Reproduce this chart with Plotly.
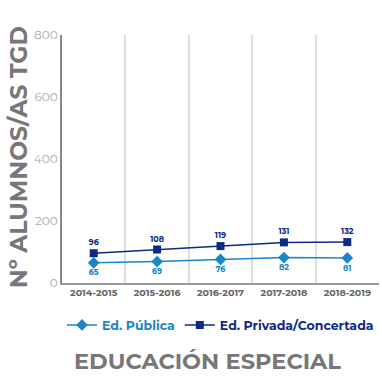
import plotly.graph_objects as go

categories = ["2014-2015", "2015-2016", "2016-2017", "2017-2018", "2018-2019"]
publica = [65, 69, 76, 82, 81]
privada = [96, 108, 119, 131, 132]
y_ticks = [0, 200, 400, 600, 800]

c_pub = "#1a86c6"
c_priv = "#0c2a84"
font_fam = "Montserrat, 'Open Sans', Lato, sans-serif"

fig = go.Figure()
fig.add_trace(go.Scatter(
    x=categories, y=publica, mode="lines+markers+text",
    name=f"<span style='color:{c_pub}'><b>Ed. Pública</b></span>",
    line=dict(color=c_pub, width=1.5),
    marker=dict(symbol="diamond", size=9, color=c_pub),
    text=[str(v) for v in publica], textposition="bottom center",
    textfont=dict(size=8, color=c_pub, family=font_fam, weight="bold"),
))
fig.add_trace(go.Scatter(
    x=categories, y=privada, mode="lines+markers+text",
    name=f"<span style='color:{c_priv}'><b>Ed. Privada/Concertada</b></span>",
    line=dict(color=c_priv, width=1.5),
    marker=dict(symbol="square", size=8, color=c_priv),
    text=[str(v) for v in privada], textposition="top center",
    textfont=dict(size=8, color=c_priv, family=font_fam, weight="bold"),
))

fig.update_layout(
    width=382, height=376,
    margin=dict(l=62, r=3, t=35, b=93),
    plot_bgcolor="white", paper_bgcolor="white",
    font=dict(family=font_fam),
    showlegend=True,
    legend=dict(orientation="h", x=0.5, xanchor="center", y=-0.11, yanchor="top",
                font=dict(size=12.5, family=font_fam), itemwidth=30,
                traceorder="normal"),
    xaxis=dict(
        type="category", range=[-0.5, 4.5], tickson="boundaries",
        showgrid=True, gridcolor="#dedede", gridwidth=2,
        showline=True, linecolor="#999999", linewidth=2,
        ticks="", tickfont=dict(size=9.5, color="#666666", family=font_fam, weight="bold"),
    ),
    yaxis=dict(
        range=[0, 800], tickvals=y_ticks, showgrid=False, zeroline=False,
        showline=True, linecolor="#888888", linewidth=2,
        ticks="", tickfont=dict(size=12, color="#aaaaaa", family=font_fam),
    ),
    annotations=[
        dict(text="<b>Nº ALUMNOS/AS TGD</b>", textangle=-90, xref="paper", yref="paper",
             x=-0.137, y=0.505, xanchor="center", yanchor="middle", showarrow=False,
             font=dict(size=23.5, color="#777777", family=font_fam)),
        dict(text="<b>EDUCACIÓN ESPECIAL</b>", xref="paper", yref="paper",
             x=0.46, y=-0.255, xanchor="center", yanchor="top", showarrow=False,
             borderpad=0,
             font=dict(size=22.5, color="#777777", family=font_fam)),
    ],
)

fig.write_html("out.html", config={"displayModeBar": False},
               post_script="document.body.style.margin='0';")
